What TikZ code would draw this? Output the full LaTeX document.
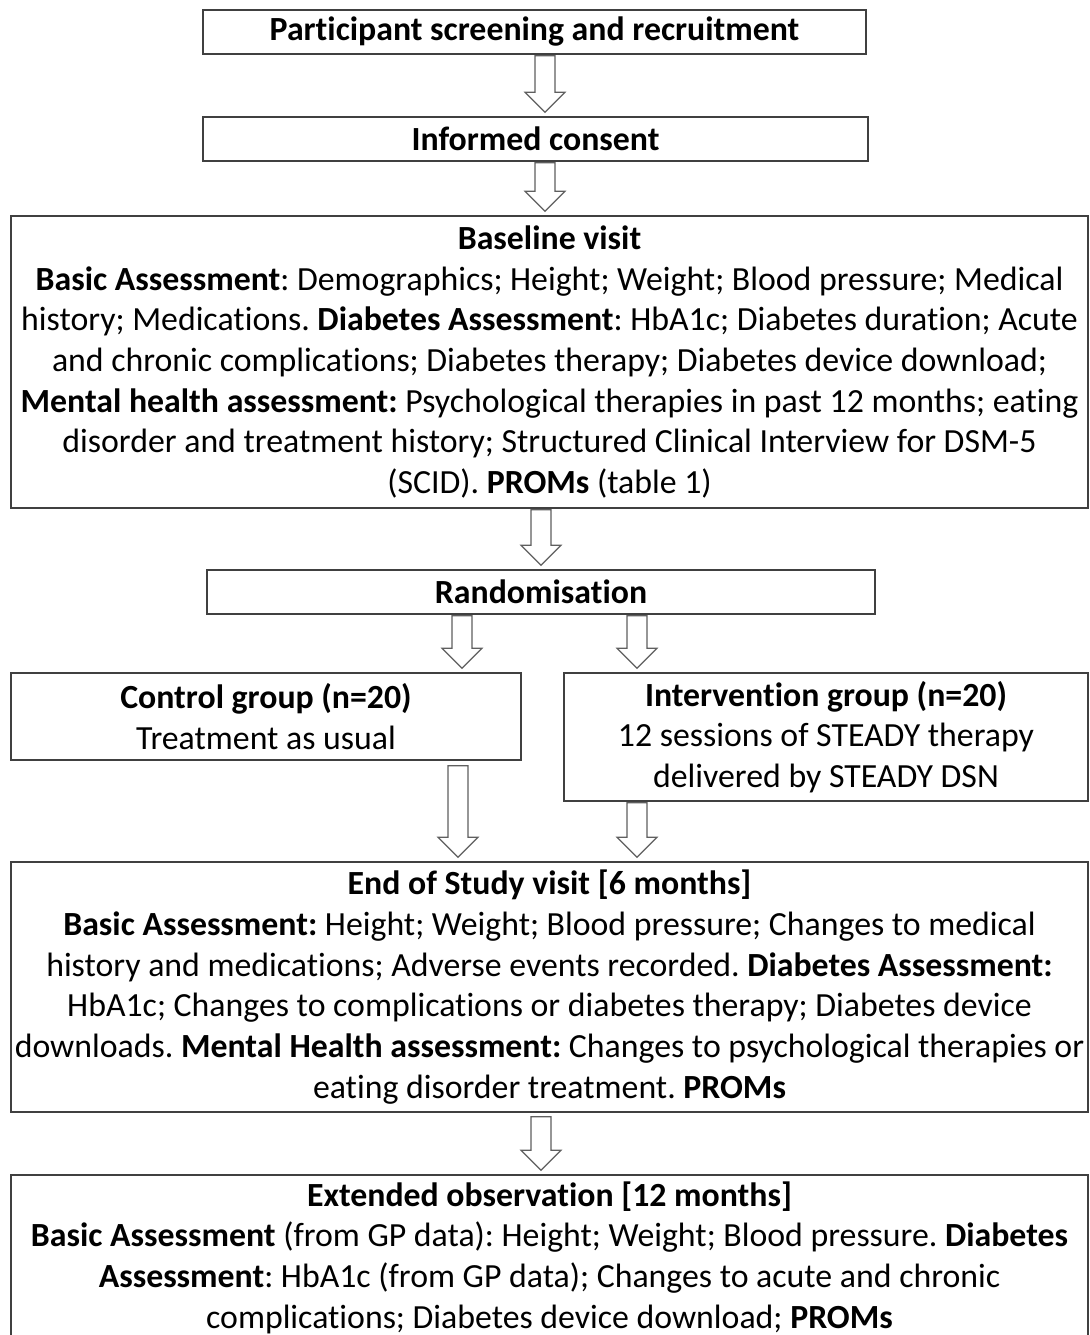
\documentclass[tikz,border=0pt]{standalone}
\usepackage{fontspec}
\setmainfont[Ligatures=NoCommon]{Carlito}
\frenchspacing
\usetikzlibrary{calc}
\definecolor{edge}{RGB}{64,64,64}
\definecolor{arrowline}{RGB}{95,95,95}
\tikzset{
  stage/.style={draw=edge,line width=1.5pt,fill=white,align=center,inner sep=0pt,
    font=\fontsize{33.8}{40.7}\selectfont},
  % hollow block arrow from start point down to target point
  blockdown/.style={draw=arrowline,line width=1.2pt,fill=white,
    to path={let \p1=(\tikztostart),\p2=(\tikztotarget) in
      (\x1-10pt,\y1-1pt) -- (\x1-10pt,\y2+24pt) -- (\x1-20pt,\y2+24pt) -- (\x1,\y2+4pt)
      -- (\x1+20pt,\y2+24pt) -- (\x1+10pt,\y2+24pt) -- (\x1+10pt,\y1-1pt) -- cycle}},
}

\begin{document}
\begin{tikzpicture}[x=1pt,y=-1pt]
  \useasboundingbox (0,0) rectangle (1089,1335);

  \node[stage,minimum width=663pt,minimum height=44pt] (screen) at (534.5,32)
    {\textbf{Participant screening and recruitment}};
  \node[stage,minimum width=665pt,minimum height=44pt] (consent) at (535.5,139)
    {\textbf{Informed consent}};
  \node[stage,minimum width=1077pt,minimum height=292pt] (base) at (549.5,362)
    {\textbf{Baseline visit}\\
     \textbf{Basic Assessment}: Demographics; Height; Weight; Blood pressure; Medical\\
     history; Medications. \textbf{Diabetes Assessment}: HbA1c; Diabetes duration; Acute\\
     and chronic complications; Diabetes therapy; Diabetes device download;\\
     \textbf{Mental health assessment:} Psychological therapies in past 12 months; eating\\
     disorder and treatment history; Structured Clinical Interview for DSM-5\\
     (SCID). \textbf{PROMs} (table 1)};
  \node[stage,minimum width=668pt,minimum height=44pt] (rand) at (541,592)
    {\textbf{Randomisation}};
  \node[stage,minimum width=510pt,minimum height=87pt] (ctrl) at (266,716.5)
    {\textbf{Control group (n=20)}\\ Treatment as usual};
  \node[stage,minimum width=524pt,minimum height=128pt] (intv) at (826,737)
    {\textbf{Intervention group (n=20)}\\ 12 sessions of STEADY therapy\\ delivered by STEADY DSN};
  \node[stage,minimum width=1077pt,minimum height=250pt] (endv) at (549.5,987)
    {\textbf{End of Study visit [6 months]}\\
     \textbf{Basic Assessment:} Height; Weight; Blood pressure; Changes to medical\\
     history and medications; Adverse events recorded. \textbf{Diabetes Assessment:}\\
     HbA1c; Changes to complications or diabetes therapy; Diabetes device\\
     downloads. \textbf{Mental Health assessment:} Changes to psychological therapies or\\
     eating disorder treatment. \textbf{PROMs}};
  \node[stage,minimum width=1077pt,minimum height=165pt] (ext) at (549.5,1257.5)
    {\textbf{Extended observation [12 months]}\\
     \textbf{Basic Assessment} (from GP data): Height; Weight; Blood pressure. \textbf{Diabetes}\\
     \textbf{Assessment}: HbA1c (from GP data); Changes to acute and chronic\\
     complications; Diabetes device download; \textbf{PROMs}};

  % arrow columns
  \coordinate (top) at (545,0);
  \coordinate (mid) at (541,0);
  \coordinate (left) at (462,0);
  \coordinate (lowleft) at (458,0);
  \coordinate (right) at (637,0);

  \draw[blockdown] (screen.south -| top) to (consent.north -| top);
  \draw[blockdown] (consent.south -| top) to (base.north -| top);
  \draw[blockdown] (base.south -| mid) to (rand.north -| mid);
  \draw[blockdown] (rand.south -| left) to (ctrl.north -| left);
  \draw[blockdown] (rand.south -| right) to (ctrl.north -| right);
  \draw[blockdown] ([yshift=-4pt]ctrl.south -| lowleft) to (endv.north -| lowleft);
  \draw[blockdown] (intv.south -| right) to (endv.north -| right);
  \draw[blockdown] ([yshift=-3pt]endv.south -| mid) to (ext.north -| mid);
\end{tikzpicture}
\end{document}
